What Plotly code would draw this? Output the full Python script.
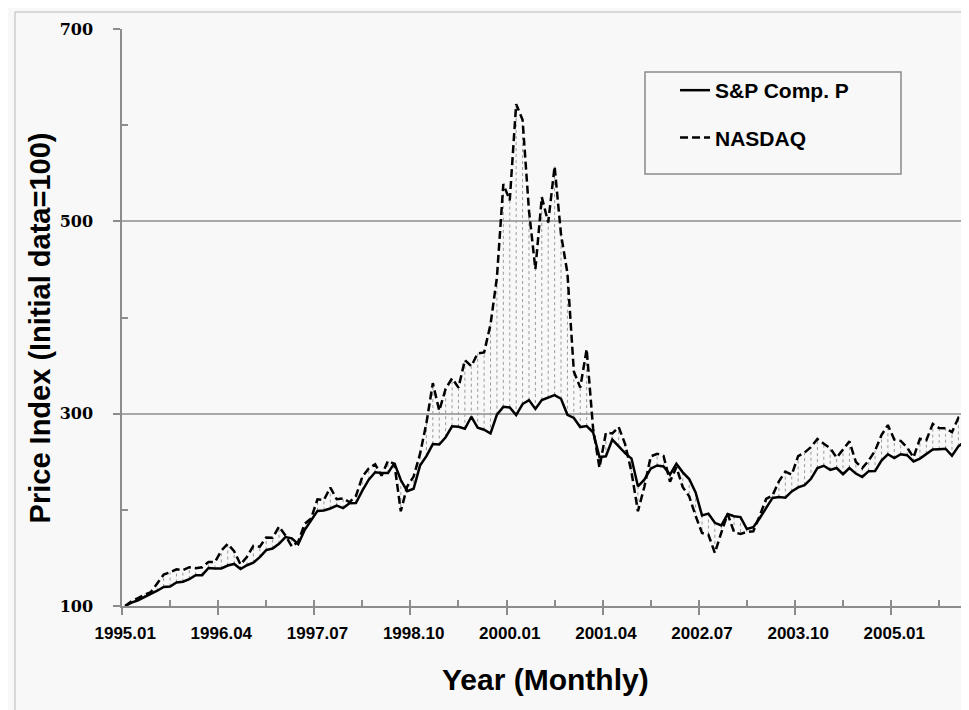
import plotly.graph_objects as go

# ---------------- data (monthly, index 1995.01 = 100) ----------------
months = [f"{y}.{m:02d}" for y in range(1995, 2006) for m in range(1, 13)]

sp_comp = [
    100.0, 103.6, 106.0, 109.2, 112.6, 115.9, 119.8, 120.2, 124.4, 125.3, 128.0, 132.1,
    132.1, 139.6, 139.1, 139.1, 142.1, 143.7, 138.4, 142.4, 145.1, 150.8, 158.1, 159.8,
    164.7, 171.6, 170.3, 164.2, 179.1, 188.4, 198.9, 199.4, 201.4, 204.4, 201.8, 206.9,
    207.1, 220.0, 231.4, 239.1, 238.2, 238.2, 248.6, 231.0, 219.4, 221.9, 246.0, 255.8,
    268.4, 267.9, 275.5, 286.9, 286.3, 284.3, 296.8, 285.3, 283.3, 279.4, 299.0, 307.1,
    306.4, 298.5, 310.0, 314.1, 304.9, 314.2, 316.6, 319.3, 315.5, 298.8, 295.5, 286.1,
    287.1, 280.7, 254.9, 255.7, 273.1, 266.2, 258.9, 253.3, 224.5, 231.4, 242.8, 246.1,
    245.1, 236.6, 248.0, 239.0, 232.0, 218.0, 194.2, 196.1, 186.5, 183.7, 195.6, 193.3,
    192.5, 180.0, 182.0, 191.3, 201.2, 212.4, 213.3, 212.7, 219.1, 223.3, 225.7, 232.3,
    243.4, 245.8, 241.6, 243.5, 237.0, 243.5, 237.7, 234.1, 240.2, 240.3, 251.3, 257.8,
    253.9, 257.8, 256.8, 250.3, 253.3, 258.4, 262.7, 263.1, 263.5, 256.2, 266.0, 271.3,
]

nasdaq = [
    100.0, 105.1, 108.2, 111.8, 114.5, 123.6, 132.6, 135.1, 138.2, 137.2, 140.3, 139.3,
    140.3, 145.7, 145.8, 157.6, 164.6, 156.9, 143.1, 151.2, 162.5, 161.7, 171.2, 170.9,
    182.7, 173.3, 161.8, 166.9, 185.4, 191.0, 211.0, 210.2, 223.2, 211.0, 211.9, 207.9,
    214.4, 234.4, 243.1, 247.4, 235.5, 250.9, 247.9, 198.5, 224.3, 234.6, 258.1, 290.3,
    331.8, 303.0, 325.9, 336.7, 327.1, 355.7, 349.4, 362.7, 363.6, 392.8, 441.8, 538.8,
    521.8, 621.9, 605.5, 511.2, 450.3, 525.2, 498.8, 557.0, 486.3, 446.2, 344.0, 327.1,
    367.2, 284.9, 243.7, 280.2, 279.5, 286.1, 268.4, 239.1, 198.5, 223.8, 255.6, 258.3,
    256.1, 229.3, 244.4, 223.5, 214.0, 193.8, 175.9, 174.1, 155.2, 176.1, 195.8, 176.8,
    174.9, 177.1, 177.6, 193.9, 211.3, 214.9, 229.7, 239.7, 236.6, 255.9, 259.6, 265.3,
    273.6, 268.8, 264.1, 254.3, 263.1, 271.2, 249.9, 243.4, 251.2, 261.5, 277.7, 288.1,
    273.1, 271.7, 264.7, 254.5, 273.9, 272.4, 289.3, 285.0, 284.9, 280.8, 295.7, 292.0,
]

tick_labels = ["1995.01", "1996.04", "1997.07", "1998.10", "2000.01",
               "2001.04", "2002.07", "2003.10", "2005.01"]
y_major = [100, 300, 500, 700]
y_minor = [200, 400, 600]
y_grid = [300, 500]

# ---------------- derived positions ----------------
idx = list(range(len(months)))
label_pos = [months.index(t) for t in tick_labels]
major_bounds = [p - 0.5 for p in label_pos]
all_bounds = sorted(major_bounds + [p + 7 for p in label_pos])
xr = [-0.5, len(months) - 0.5]

drop_x, drop_y = [], []
for i, a, b in zip(idx, sp_comp, nasdaq):
    drop_x += [i, i, None]
    drop_y += [a, b, None]

BG = "#f8f8f8"
AX = "#8c8c8c"
SANS = "Liberation Sans, Arial, sans-serif"

fig = go.Figure()
# high-low (drop) lines on the base subplot so they sit behind the series
fig.add_trace(go.Scatter(x=drop_x, y=drop_y, mode="lines", xaxis="x", yaxis="y",
                         line=dict(color="#9a9a9a", width=1, dash="dot"),
                         showlegend=False, hoverinfo="skip"))
fig.add_trace(go.Scatter(x=idx, y=sp_comp, mode="lines", name="<b>S&P Comp. P</b>",
                         xaxis="x2", yaxis="y", legendgroup="a", text=months,
                         line=dict(color="#000000", width=2.5)))
fig.add_trace(go.Scatter(x=idx, y=nasdaq, mode="lines", name="<b>NASDAQ</b>",
                         xaxis="x3", yaxis="y2", legendgroup="b", text=months,
                         line=dict(color="#000000", width=2.5, dash="8px,4px")))

fig.update_layout(
    width=969, height=710,
    margin=dict(l=114, r=9, t=21, b=112),
    paper_bgcolor=BG, plot_bgcolor=BG,
    font=dict(family=SANS, color="#000000"),
    xaxis=dict(range=xr, showline=True, linecolor=AX, linewidth=1.5,
               tickmode="array", tickvals=major_bounds, ticks="outside",
               ticklen=7, tickwidth=1.5, tickcolor=AX, showticklabels=False,
               showgrid=False, zeroline=False),
    xaxis2=dict(range=xr, overlaying="x", anchor="y", side="bottom",
                tickmode="array", tickvals=all_bounds, ticks="inside",
                ticklen=6, tickwidth=1.5, tickcolor=AX, showticklabels=False,
                showline=False, showgrid=False, zeroline=False),
    xaxis3=dict(range=xr, overlaying="x", anchor="y2", side="bottom",
                tickmode="array", tickvals=label_pos,
                ticktext=[f"<b>{t}</b>" for t in tick_labels], ticks="",
                ticklabelstandoff=15, tickfont=dict(family=SANS, size=17, color="#000"),
                showline=False, showgrid=False, zeroline=False),
    yaxis=dict(range=[100, 700], showline=True, linecolor=AX, linewidth=1.5,
               tickmode="array", tickvals=y_major,
               ticktext=[f"<b>{v}</b>" for v in y_major],
               ticks="outside", ticklen=7, tickwidth=1.5, tickcolor=AX,
               ticklabelstandoff=17,
               tickfont=dict(family="DejaVu Serif, serif", size=16, color="#000"),
               minor=dict(tickmode="array", tickvals=y_minor, ticks="inside",
                          ticklen=6, tickwidth=1.5, tickcolor=AX, showgrid=False),
               showgrid=False, zeroline=False),
    yaxis2=dict(range=[100, 700], overlaying="y", anchor="x", side="left",
                tickmode="array", tickvals=y_grid, showgrid=True,
                gridcolor="#a8a8a8", gridwidth=1.5, ticks="",
                showticklabels=False, showline=False, zeroline=False),
    legend=dict(x=0.6537, y=0.9289, xanchor="left", yanchor="top",
                bgcolor="rgba(0,0,0,0)", borderwidth=0, tracegroupgap=17,
                font=dict(family=SANS, size=21, color="#000")),
    shapes=[
        dict(type="rect", xref="paper", yref="paper",
             x0=0.6182, x1=0.9208, y0=0.7487, y1=0.9255,
             line=dict(color="#8a8a8a", width=1.5), fillcolor="rgba(0,0,0,0)"),
        dict(type="rect", xref="paper", yref="paper",
             x0=-0.1265, x1=1.05, y0=-0.25, y1=1.0295,
             line=dict(color="#b8b8b8", width=1), fillcolor="rgba(0,0,0,0)"),
    ],
    annotations=[
        dict(text="<b>Year (Monthly)</b>", xref="paper", yref="paper",
             x=0.5, y=-0.128, xanchor="center", yanchor="middle",
             showarrow=False, font=dict(family=SANS, size=30, color="#000")),
        dict(text="<b>Price Index (Initial data=100)</b>", xref="paper", yref="paper",
             x=-0.0975, y=0.482, xanchor="center", yanchor="middle", textangle=-90,
             showarrow=False, font=dict(family=SANS, size=29, color="#000")),
    ],
)

fig.write_html("out.html")
